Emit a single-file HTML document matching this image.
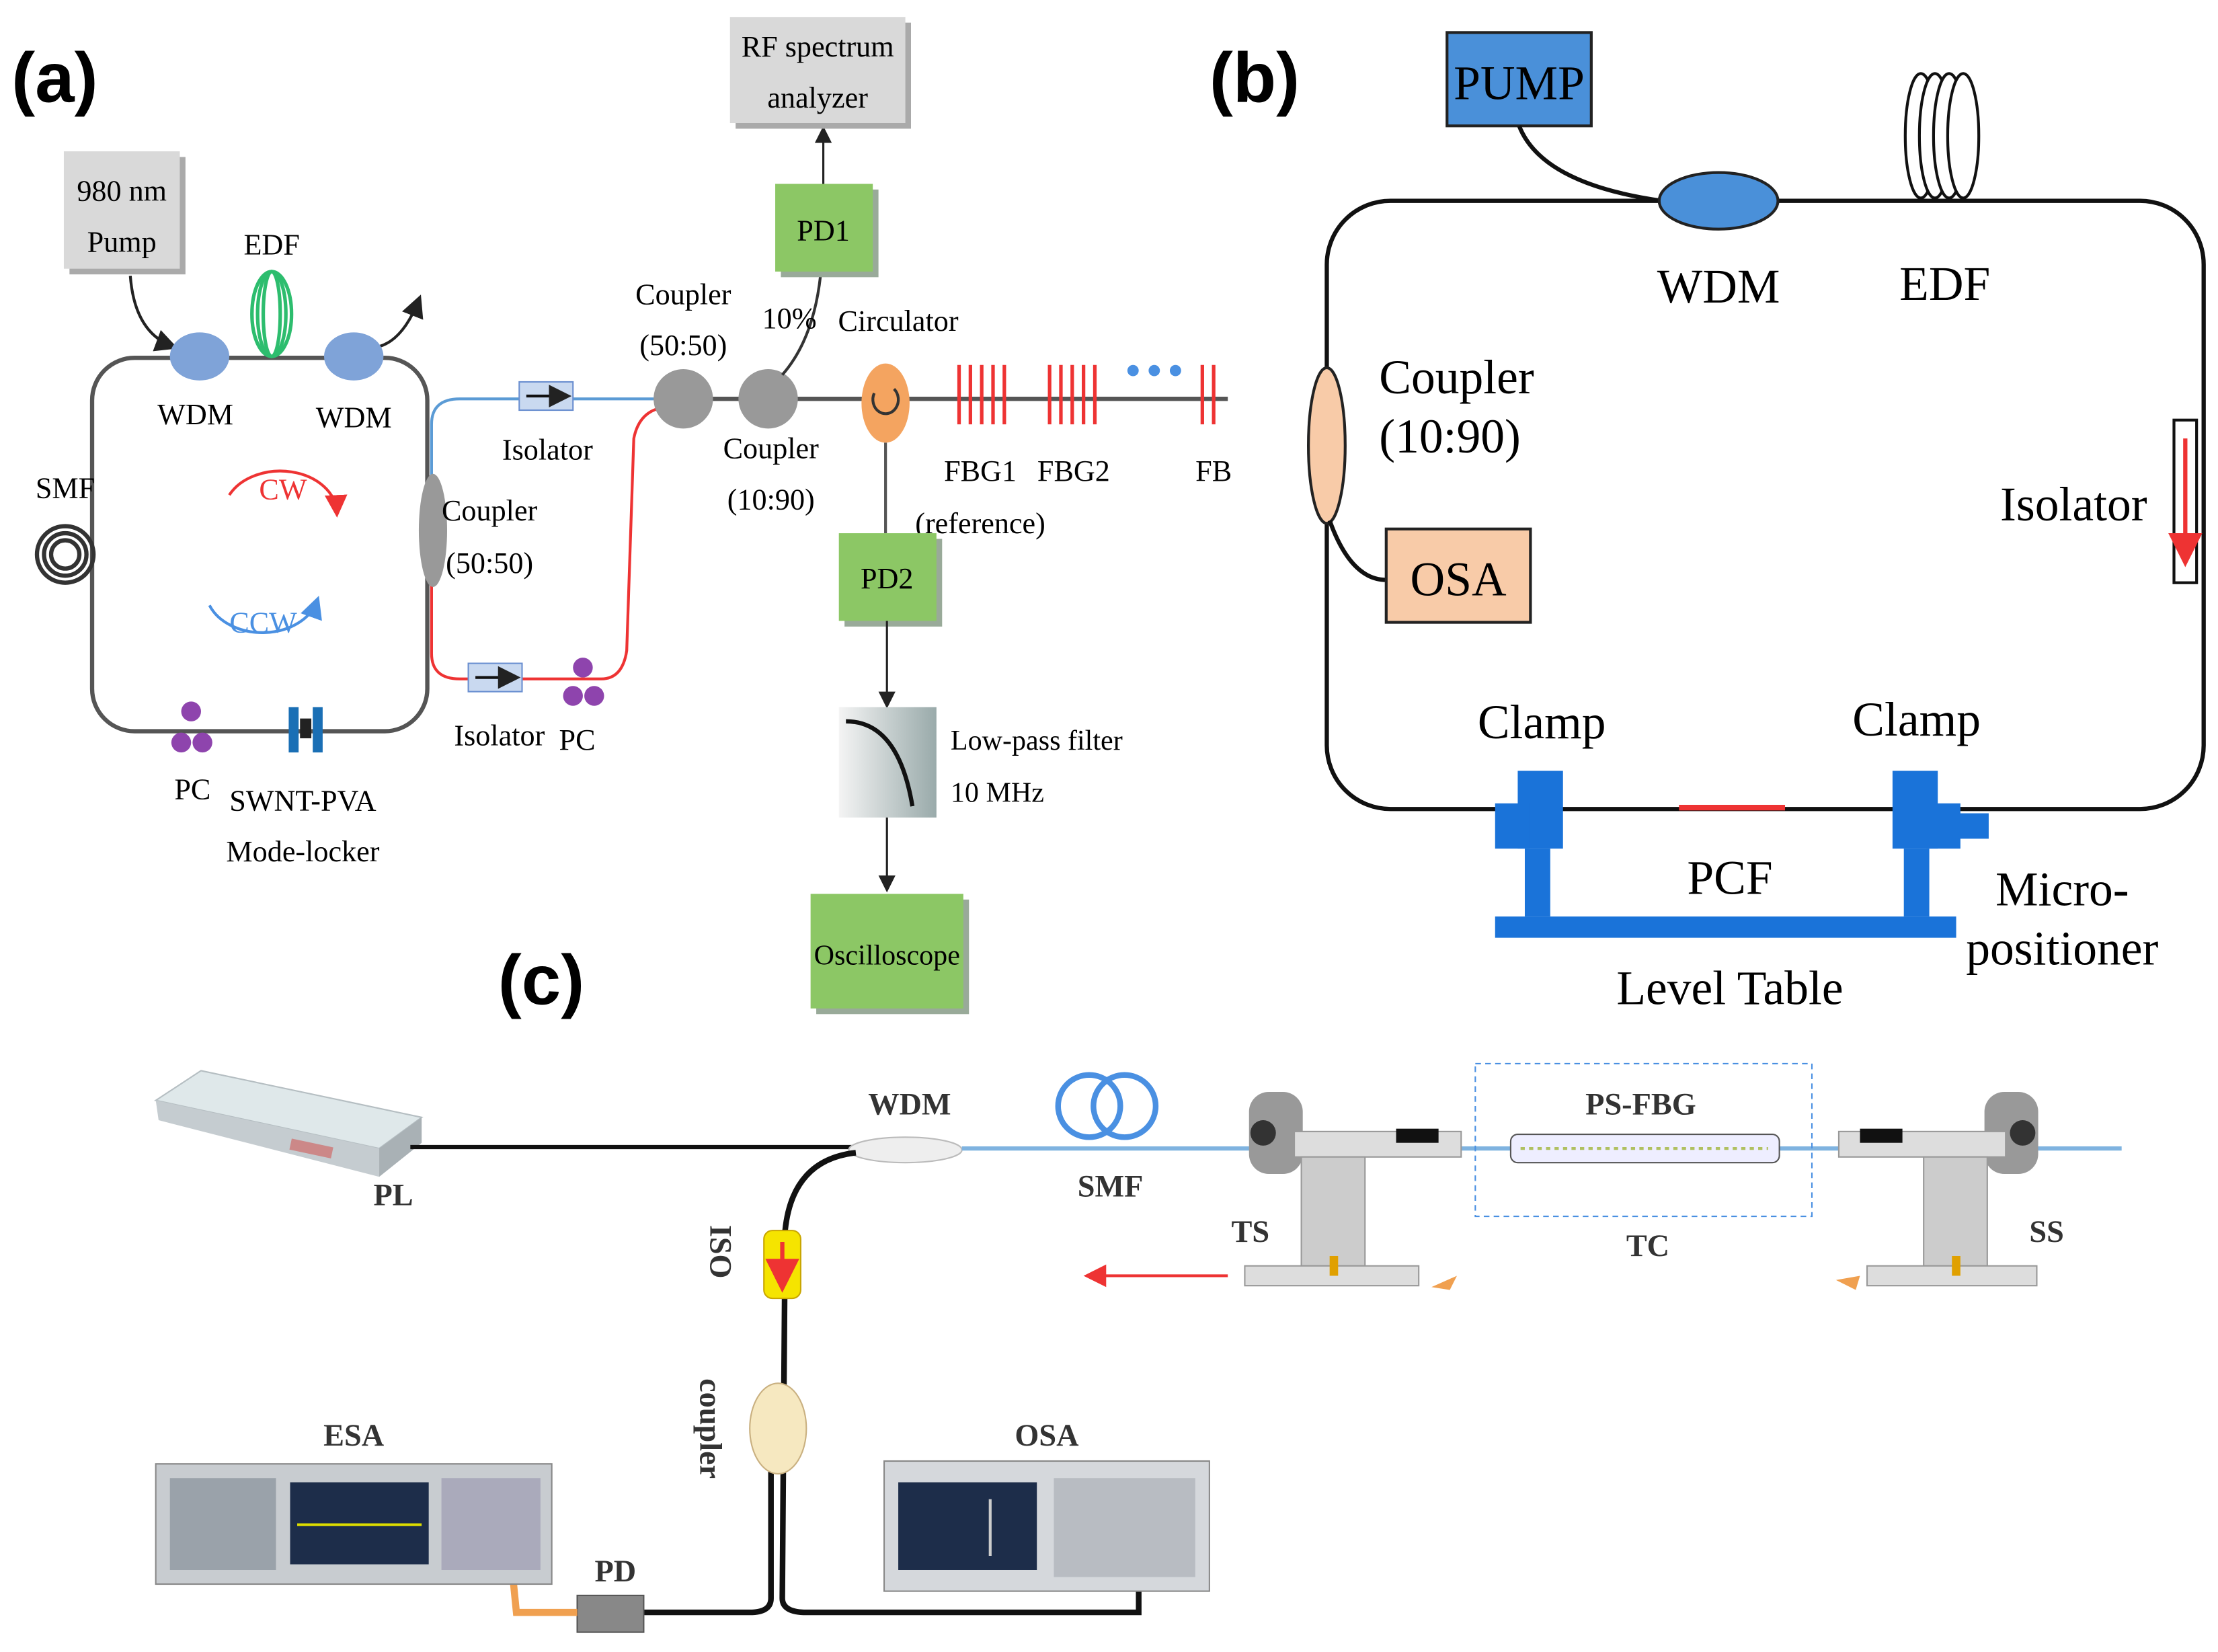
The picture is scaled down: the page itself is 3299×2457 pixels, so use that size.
<!DOCTYPE html>
<html><head><meta charset="utf-8"><style>html,body{margin:0;padding:0;background:#fff}svg{display:block}</style></head>
<body>
<svg xmlns="http://www.w3.org/2000/svg" width="3299" height="2457" viewBox="0 0 1568 1168" font-family="Liberation Serif, serif">
<defs>
<marker id="ar" markerWidth="8" markerHeight="8" refX="6" refY="4" orient="auto"><path d="M0,0 L8,4 L0,8 z" fill="#222"/></marker>
<marker id="arr" markerWidth="8" markerHeight="8" refX="6" refY="4" orient="auto"><path d="M0,0 L8,4 L0,8 z" fill="#e33"/></marker>
<marker id="arb" markerWidth="8" markerHeight="8" refX="6" refY="4" orient="auto"><path d="M0,0 L8,4 L0,8 z" fill="#4a90e2"/></marker>
<linearGradient id="gd" x1="0" x2="1"><stop offset="0" stop-color="#f4f4f4"/><stop offset="1" stop-color="#9aa"/></linearGradient>
</defs>
<rect width="1568" height="1168" fill="#fff"/>
<!-- ===== (a) ===== -->
<text x="8" y="72" font-family="Liberation Sans, sans-serif" font-weight="bold" font-size="50">(a)</text>
<rect x="49" y="111" width="82" height="83" fill="#aaa"/>
<rect x="45" y="107" width="82" height="83" fill="#d9d9d9"/>
<text x="86" y="142" font-size="21" text-anchor="middle">980 nm</text>
<text x="86" y="178" font-size="21" text-anchor="middle">Pump</text>
<rect x="65" y="253" width="237" height="264" rx="30" fill="none" stroke="#555" stroke-width="3"/>
<path d="M92,195 Q95,235 122,245" fill="none" stroke="#222" stroke-width="2" marker-end="url(#ar)"/>
<path d="M268,245 Q285,240 296,212" fill="none" stroke="#222" stroke-width="2" marker-end="url(#ar)"/>
<g fill="none" stroke="#2dbd6e" stroke-width="2.5">
<ellipse cx="192" cy="222" rx="14" ry="30"/><ellipse cx="192" cy="222" rx="10" ry="30"/><ellipse cx="192" cy="222" rx="6" ry="30"/></g>
<text x="192" y="180" font-size="21" text-anchor="middle">EDF</text>
<ellipse cx="141" cy="252" rx="21" ry="17" fill="#7fa3d8"/>
<ellipse cx="250" cy="252" rx="21" ry="17" fill="#7fa3d8"/>
<text x="138" y="300" font-size="21" text-anchor="middle">WDM</text>
<text x="250" y="302" font-size="21" text-anchor="middle">WDM</text>
<g fill="none" stroke="#333" stroke-width="3"><circle cx="46" cy="392" r="10"/><circle cx="46" cy="392" r="15"/><circle cx="46" cy="392" r="20"/></g>
<text x="46" y="352" font-size="21" text-anchor="middle">SMF</text>
<path d="M162,350 A40,30 0 0 1 238,362" fill="none" stroke="#e33" stroke-width="2" marker-end="url(#arr)"/>
<text x="200" y="353" font-size="21" fill="#e33" text-anchor="middle">CW</text>
<path d="M148,428 A40,30 0 0 0 224,425" fill="none" stroke="#4a90e2" stroke-width="2" marker-end="url(#arb)"/>
<text x="186" y="447" font-size="21" fill="#4a90e2" text-anchor="middle">CCW</text>
<g fill="#8e44ad"><circle cx="135" cy="503" r="7"/><circle cx="128" cy="525" r="7"/><circle cx="143" cy="525" r="7"/>
<circle cx="412" cy="472" r="7"/><circle cx="405" cy="492" r="7"/><circle cx="420" cy="492" r="7"/></g>
<text x="136" y="565" font-size="21" text-anchor="middle">PC</text>
<rect x="204" y="500" width="7" height="32" fill="#1a6fb5"/><rect x="221" y="500" width="7" height="32" fill="#1a6fb5"/><rect x="212" y="508" width="8" height="14" fill="#222"/>
<text x="214" y="573" font-size="21" text-anchor="middle">SWNT-PVA</text>
<text x="214" y="609" font-size="21" text-anchor="middle">Mode-locker</text>
<path d="M305,350 L305,300 Q305,282 325,282 L470,282" fill="none" stroke="#5b9bd5" stroke-width="2"/>
<path d="M305,400 L305,462 Q305,480 325,480 L425,480 Q440,480 443,460 L448,310 Q452,290 470,288" fill="none" stroke="#e33" stroke-width="2"/>
<ellipse cx="306" cy="375" rx="10" ry="40" fill="#999"/>
<text x="346" y="368" font-size="21" text-anchor="middle">Coupler</text>
<text x="346" y="405" font-size="21" text-anchor="middle">(50:50)</text>
<rect x="367" y="270" width="38" height="20" fill="#c9d9f0" stroke="#6a8fd0"/><path d="M372,280 H400" stroke="#111" stroke-width="2" marker-end="url(#ar)"/>
<text x="387" y="325" font-size="21" text-anchor="middle">Isolator</text>
<rect x="331" y="469" width="38" height="20" fill="#c9d9f0" stroke="#6a8fd0"/><path d="M336,479 H364" stroke="#111" stroke-width="2" marker-end="url(#ar)"/>
<text x="353" y="527" font-size="21" text-anchor="middle">Isolator</text>
<text x="408" y="530" font-size="21" text-anchor="middle">PC</text>
<line x1="470" y1="282" x2="868" y2="282" stroke="#555" stroke-width="3"/>
<circle cx="483" cy="282" r="21" fill="#999"/><circle cx="543" cy="282" r="21" fill="#999"/>
<text x="483" y="215" font-size="21" text-anchor="middle">Coupler</text>
<text x="483" y="251" font-size="21" text-anchor="middle">(50:50)</text>
<text x="545" y="324" font-size="21" text-anchor="middle">Coupler</text>
<text x="545" y="360" font-size="21" text-anchor="middle">(10:90)</text>
<path d="M553,265 Q575,240 580,195" fill="none" stroke="#333" stroke-width="2"/>
<text x="558" y="232" font-size="21" text-anchor="middle">10%</text>
<rect x="552" y="134" width="69" height="62" fill="#9a9"/>
<rect x="548" y="130" width="69" height="62" fill="#8cc765"/>
<text x="582" y="170" font-size="21" text-anchor="middle">PD1</text>
<line x1="582" y1="130" x2="582" y2="92" stroke="#222" stroke-width="1.5" marker-end="url(#ar)"/>
<rect x="520" y="16" width="124" height="75" fill="#aaa"/>
<rect x="516" y="12" width="124" height="75" fill="#d9d9d9"/>
<text x="578" y="40" font-size="21" text-anchor="middle">RF spectrum</text>
<text x="578" y="76" font-size="21" text-anchor="middle">analyzer</text>
<ellipse cx="626" cy="285" rx="17" ry="28" fill="#f4a460"/>
<path d="M618,278 A9,10 0 1 0 632,275" fill="none" stroke="#333" stroke-width="2"/>
<text x="635" y="234" font-size="21" text-anchor="middle">Circulator</text>
<line x1="626" y1="313" x2="626" y2="377" stroke="#555" stroke-width="2"/>
<g stroke="#e33" stroke-width="2.5">
<line x1="678" y1="258" x2="678" y2="300"/><line x1="686" y1="258" x2="686" y2="300"/><line x1="694" y1="258" x2="694" y2="300"/><line x1="702" y1="258" x2="702" y2="300"/><line x1="710" y1="258" x2="710" y2="300"/>
<line x1="742" y1="258" x2="742" y2="300"/><line x1="750" y1="258" x2="750" y2="300"/><line x1="758" y1="258" x2="758" y2="300"/><line x1="766" y1="258" x2="766" y2="300"/><line x1="774" y1="258" x2="774" y2="300"/>
<line x1="850" y1="258" x2="850" y2="300"/><line x1="858" y1="258" x2="858" y2="300"/></g>
<g fill="#4a90e2"><circle cx="801" cy="262" r="4"/><circle cx="816" cy="262" r="4"/><circle cx="831" cy="262" r="4"/></g>
<text x="693" y="340" font-size="21" text-anchor="middle">FBG1</text>
<text x="759" y="340" font-size="21" text-anchor="middle">FBG2</text>
<text x="858" y="340" font-size="21" text-anchor="middle">FB</text>
<text x="693" y="377" font-size="21" text-anchor="middle">(reference)</text>
<rect x="597" y="381" width="69" height="62" fill="#9a9"/>
<rect x="593" y="377" width="69" height="62" fill="#8cc765"/>
<text x="627" y="416" font-size="21" text-anchor="middle">PD2</text>
<line x1="627" y1="439" x2="627" y2="498" stroke="#222" stroke-width="1.5" marker-end="url(#ar)"/>
<rect x="593" y="500" width="69" height="78" fill="url(#gd)"/>
<path d="M598,510 Q635,510 645,570" fill="none" stroke="#111" stroke-width="3"/>
<text x="672" y="530" font-size="20">Low-pass filter</text>
<text x="672" y="567" font-size="20">10 MHz</text>
<line x1="627" y1="578" x2="627" y2="628" stroke="#222" stroke-width="1.5" marker-end="url(#ar)"/>
<rect x="577" y="636" width="108" height="81" fill="#9a9"/>
<rect x="573" y="632" width="108" height="81" fill="#8cc765"/>
<text x="627" y="682" font-size="20" text-anchor="middle">Oscilloscope</text>
<!-- ===== (b) ===== -->
<text x="855" y="72" font-family="Liberation Sans, sans-serif" font-weight="bold" font-size="50">(b)</text>
<rect x="938" y="142" width="620" height="430" rx="45" fill="none" stroke="#111" stroke-width="3"/>
<rect x="1023" y="23" width="102" height="66" fill="#4a90d9" stroke="#222" stroke-width="2"/>
<text x="1074" y="70" font-size="34" text-anchor="middle">PUMP</text>
<path d="M1074,89 Q1090,130 1175,142" fill="none" stroke="#111" stroke-width="3"/>
<ellipse cx="1215" cy="142" rx="42" ry="20" fill="#4a90d9" stroke="#222" stroke-width="2"/>
<text x="1215" y="214" font-size="34" text-anchor="middle">WDM</text>
<g fill="#fff" stroke="#111" stroke-width="2"><ellipse cx="1358" cy="96" rx="11" ry="44"/><ellipse cx="1368" cy="96" rx="11" ry="44"/><ellipse cx="1378" cy="96" rx="11" ry="44"/><ellipse cx="1388" cy="96" rx="11" ry="44"/></g>
<text x="1375" y="212" font-size="34" text-anchor="middle">EDF</text>
<ellipse cx="938" cy="315" rx="13" ry="55" fill="#f8cba8" stroke="#222" stroke-width="2"/>
<text x="975" y="278" font-size="34">Coupler</text>
<text x="975" y="320" font-size="34">(10:90)</text>
<path d="M940,368 Q955,410 980,410" fill="none" stroke="#111" stroke-width="3"/>
<rect x="980" y="374" width="102" height="66" fill="#f8cba8" stroke="#222" stroke-width="2"/>
<text x="1031" y="421" font-size="34" text-anchor="middle">OSA</text>
<rect x="1537" y="297" width="16" height="115" fill="#fff" stroke="#111" stroke-width="2"/>
<line x1="1545" y1="310" x2="1545" y2="395" stroke="#e33" stroke-width="3" marker-end="url(#arr)"/>
<text x="1518" y="368" font-size="34" text-anchor="end">Isolator</text>
<line x1="1187" y1="571" x2="1262" y2="571" stroke="#e33" stroke-width="4"/>
<g fill="#1a73d9">
<rect x="1073" y="545" width="32" height="55"/><rect x="1057" y="568" width="24" height="32"/><rect x="1078" y="600" width="18" height="48"/>
<rect x="1338" y="545" width="32" height="55"/><rect x="1362" y="568" width="24" height="32"/><rect x="1384" y="575" width="22" height="18"/><rect x="1346" y="600" width="18" height="48"/>
<rect x="1057" y="648" width="326" height="15"/></g>
<text x="1090" y="522" font-size="34" text-anchor="middle">Clamp</text>
<text x="1355" y="520" font-size="34" text-anchor="middle">Clamp</text>
<text x="1223" y="632" font-size="34" text-anchor="middle">PCF</text>
<text x="1223" y="710" font-size="34" text-anchor="middle">Level Table</text>
<text x="1458" y="640" font-size="34" text-anchor="middle">Micro-</text>
<text x="1458" y="682" font-size="34" text-anchor="middle">positioner</text>
<!-- ===== (c) ===== -->
<text x="352" y="710" font-family="Liberation Sans, sans-serif" font-weight="bold" font-size="50">(c)</text>
<polygon points="110,778 142,757 298,790 268,812" fill="#dfe8ea" stroke="#b5bec2" stroke-width="1"/>
<polygon points="110,778 268,812 268,832 112,792" fill="#c5ccd0"/>
<polygon points="268,812 298,790 298,808 268,832" fill="#a9b1b5"/>
<rect x="205" y="808" width="30" height="8" fill="#c88" transform="rotate(12 220 812)"/>
<text x="278" y="852" font-size="22" font-weight="bold" text-anchor="middle" fill="#333">PL</text>
<path d="M290,811 L605,811" stroke="#111" stroke-width="3" fill="none"/>
<ellipse cx="640" cy="813" rx="40" ry="9" fill="#eee" stroke="#bbb"/>
<text x="643" y="788" font-size="22" font-weight="bold" text-anchor="middle" fill="#333">WDM</text>
<line x1="680" y1="812" x2="1500" y2="812" stroke="#7fb3e0" stroke-width="3"/>
<g fill="none" stroke="#4a90e2" stroke-width="4"><circle cx="770" cy="782" r="22"/><circle cx="795" cy="782" r="22"/></g>
<text x="785" y="846" font-size="22" font-weight="bold" text-anchor="middle" fill="#333">SMF</text>
<path d="M605,815 Q560,820 555,870 L553,1130 Q553,1140 570,1140 L805,1140 L805,1110" fill="none" stroke="#111" stroke-width="4"/>
<path d="M545,980 L545,1130 Q545,1140 530,1140 L455,1140" fill="none" stroke="#111" stroke-width="4"/>
<rect x="540" y="870" width="26" height="48" rx="6" fill="#f5e400" stroke="#c9a600"/>
<line x1="553" y1="878" x2="553" y2="908" stroke="#e33" stroke-width="3" marker-end="url(#arr)"/>
<text transform="translate(502,885) rotate(90)" font-size="22" font-weight="bold" text-anchor="middle" fill="#333">ISO</text>
<ellipse cx="550" cy="1010" rx="20" ry="32" fill="#f6e8c0" stroke="#c9b080"/>
<text transform="translate(495,1010) rotate(90)" font-size="22" font-weight="bold" text-anchor="middle" fill="#333">coupler</text>
<rect x="408" y="1128" width="47" height="26" fill="#888" stroke="#555"/>
<text x="435" y="1118" font-size="22" font-weight="bold" text-anchor="middle" fill="#333">PD</text>
<path d="M408,1140 L365,1140 L360,1090" fill="none" stroke="#f0a050" stroke-width="5"/>
<rect x="110" y="1035" width="280" height="85" fill="#c8ccd0" stroke="#888"/>
<rect x="205" y="1048" width="98" height="58" fill="#1d2d4a"/>
<line x1="210" y1="1078" x2="298" y2="1078" stroke="#dd0" stroke-width="2"/>
<rect x="120" y="1045" width="75" height="65" fill="#9aa2aa"/>
<rect x="312" y="1045" width="70" height="65" fill="#aab"/>
<text x="250" y="1022" font-size="22" font-weight="bold" text-anchor="middle" fill="#333">ESA</text>
<rect x="625" y="1033" width="230" height="92" fill="#d5d8dc" stroke="#888"/>
<rect x="635" y="1048" width="98" height="62" fill="#1d2d4a"/>
<line x1="700" y1="1100" x2="700" y2="1060" stroke="#ccc" stroke-width="2"/>
<rect x="745" y="1045" width="100" height="70" fill="#b8bcc2"/>
<text x="740" y="1022" font-size="22" font-weight="bold" text-anchor="middle" fill="#333">OSA</text>
<!-- TS -->
<rect x="883" y="772" width="38" height="58" rx="14" fill="#999"/><circle cx="893" cy="801" r="9" fill="#333"/>
<rect x="915" y="800" width="118" height="18" fill="#ddd" stroke="#999"/>
<rect x="987" y="798" width="30" height="10" fill="#111"/>
<path d="M920,818 L965,818 L965,895 L920,895 Z" fill="#ccc" stroke="#999"/>
<rect x="880" y="895" width="123" height="14" fill="#ddd" stroke="#999"/>
<rect x="940" y="888" width="6" height="14" fill="#e0a000"/>
<text x="884" y="878" font-size="22" font-weight="bold" text-anchor="middle" fill="#333">TS</text>
<line x1="868" y1="902" x2="770" y2="902" stroke="#e33" stroke-width="2" marker-end="url(#arr)"/>
<polygon points="1012,910 1030,902 1025,912" fill="#f0a050"/>
<!-- TC -->
<rect x="1043" y="752" width="238" height="108" fill="none" stroke="#4a90e2" stroke-dasharray="4,3"/>
<rect x="1068" y="802" width="190" height="20" rx="5" fill="#eef" stroke="#555"/>
<line x1="1075" y1="812" x2="1250" y2="812" stroke="#b0c060" stroke-width="2" stroke-dasharray="3,3"/>
<text x="1160" y="788" font-size="22" font-weight="bold" text-anchor="middle" fill="#333">PS-FBG</text>
<text x="1165" y="888" font-size="22" font-weight="bold" text-anchor="middle" fill="#333">TC</text>
<!-- SS -->
<rect x="1403" y="772" width="38" height="58" rx="14" fill="#999"/><circle cx="1430" cy="801" r="9" fill="#333"/>
<rect x="1300" y="800" width="118" height="18" fill="#ddd" stroke="#999"/>
<rect x="1315" y="798" width="30" height="10" fill="#111"/>
<path d="M1360,818 L1405,818 L1405,895 L1360,895 Z" fill="#ccc" stroke="#999"/>
<rect x="1320" y="895" width="120" height="14" fill="#ddd" stroke="#999"/>
<rect x="1380" y="888" width="6" height="14" fill="#e0a000"/>
<text x="1447" y="878" font-size="22" font-weight="bold" text-anchor="middle" fill="#333">SS</text>
<polygon points="1298,905 1315,902 1312,912" fill="#f0a050"/>
</svg>
</body></html>
